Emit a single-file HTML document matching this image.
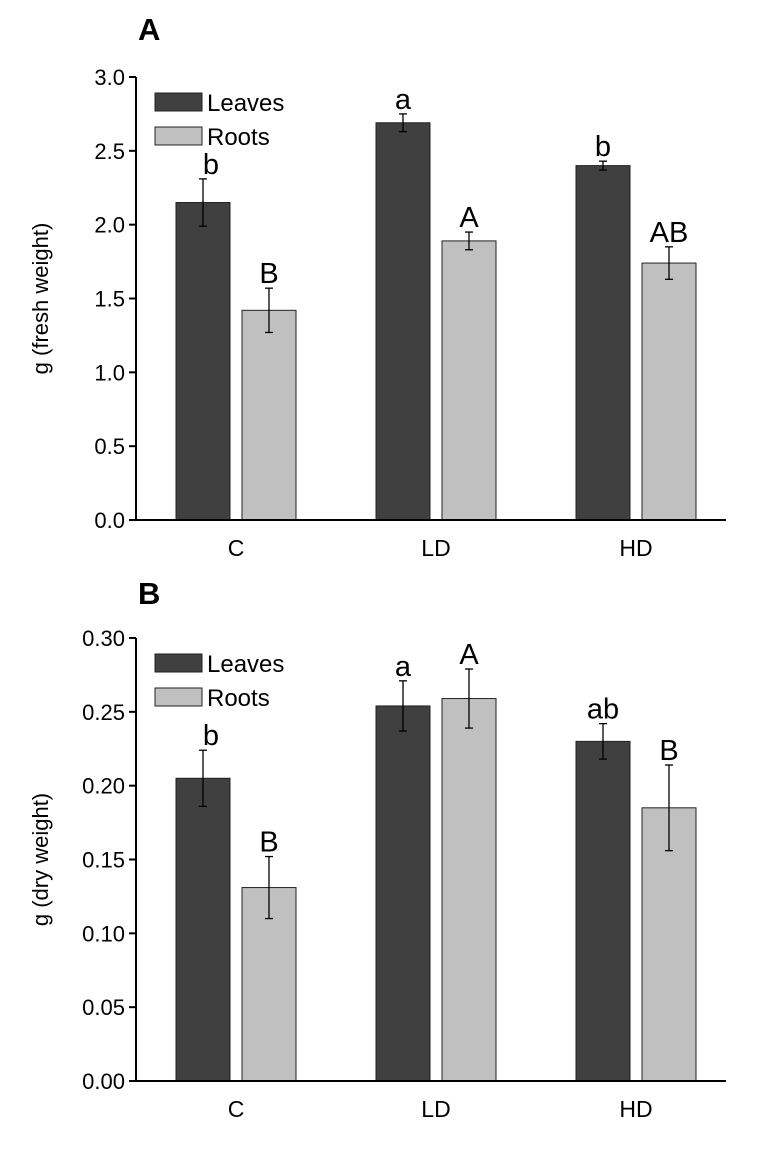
<!DOCTYPE html>
<html><head><meta charset="utf-8"><style>
body{margin:0;background:#fff;}
svg text{font-family:"Liberation Sans",sans-serif;fill:#000;}
</style></head><body>
<svg id="chart" width="761" height="1157" xmlns="http://www.w3.org/2000/svg"></svg>
<script>
const categories = ["C","LD","HD"];
const leavesA = [2.15, 2.69, 2.40];
const leavesAErr = [0.16, 0.06, 0.03];
const rootsA = [1.42, 1.89, 1.74];
const rootsAErr = [0.15, 0.06, 0.11];
const leavesALabels = ["b","a","b"];
const rootsALabels = ["B","A","AB"];
const ticksA = [0.0,0.5,1.0,1.5,2.0,2.5,3.0];
const leavesB = [0.205, 0.254, 0.230];
const leavesBErr = [0.019, 0.017, 0.012];
const rootsB = [0.131, 0.259, 0.185];
const rootsBErr = [0.021, 0.020, 0.029];
const leavesBLabels = ["b","a","ab"];
const rootsBLabels = ["B","A","B"];
const ticksB = [0.00,0.05,0.10,0.15,0.20,0.25,0.30];

const NS="http://www.w3.org/2000/svg";
const svg=document.getElementById('chart');
function mk(tag,attrs,parent,text){const e=document.createElementNS(NS,tag);for(const k in attrs)e.setAttribute(k,attrs[k]);if(text!==undefined)e.textContent=text;(parent||svg).appendChild(e);return e;}

function panel(o){
  const g=mk('g',{});
  
  
  const x0=136,x1=726,yb=o.yb,yt=o.yt,max=o.max;
  const y=v=>yb-(v/max)*(yb-yt);
  const cx=i=>236+i*200;
  const t=mk('text',{x:138,y:o.titleY,'font-size':31,'font-weight':'bold'},g,o.title);
  
  
  const ya=mk('line',{x1:x0,y1:yt,x2:x0,y2:yb,stroke:'#000','stroke-width':2},g);
  
  
  o.ticks.forEach(v=>{
    mk('line',{x1:x0-7,y1:y(v),x2:x0,y2:y(v),stroke:'#000','stroke-width':2},g);
    const tl=mk('text',{x:x0-11,y:y(v)+8,'font-size':22,'text-anchor':'end'},g,v.toFixed(o.dec));
    
    
  });
  const yl=mk('text',{transform:`translate(48,${(yt+yb)/2}) rotate(-90)`,'font-size':22,'text-anchor':'middle'},g,o.ylabel);
  
  
  categories.forEach((c,i)=>{
    [[o.leaves,o.leavesErr,o.lL,'#404040',-60,'leaves'],[o.roots,o.rootsErr,o.rL,'#c0c0c0',6,'roots']].forEach(s=>{
      const v=s[0][i],e=s[1][i],bx=cx(i)+s[4];
      const r=mk('rect',{x:bx,y:y(v),width:54,height:yb-y(v),fill:s[3],stroke:'#222','stroke-width':1},g);
      
      
      const m=bx+27;
      mk('line',{x1:m,y1:y(v+e),x2:m,y2:y(v-e),stroke:'#000','stroke-width':1.3},g);
      mk('line',{x1:m-4,y1:y(v+e),x2:m+4,y2:y(v+e),stroke:'#000','stroke-width':1.3},g);
      mk('line',{x1:m-4,y1:y(v-e),x2:m+4,y2:y(v-e),stroke:'#000','stroke-width':1.3},g);
      const sl=mk('text',{x:m+(s[5]==='leaves'&&i===0?8:0),y:y(v+e)-5,'font-size':29,'text-anchor':'middle','font-family':'DejaVu Sans'},g,s[2][i]);
      
      
    });
    const xl=mk('text',{x:cx(i),y:yb+36,'font-size':23,'text-anchor':'middle'},g,c);
    
    
  });
  const xa=mk('line',{x1:x0-7,y1:yb,x2:x1,y2:yb,stroke:'#000','stroke-width':2},g);
  
  
  const lg=mk('g',{},g);
  
  
  mk('rect',{x:155,y:yt+16,width:47,height:18,fill:'#404040',stroke:'#222'},lg);
  mk('text',{x:207,y:yt+34,'font-size':24},lg,'Leaves');
  mk('rect',{x:155,y:yt+50,width:47,height:18,fill:'#c0c0c0',stroke:'#222'},lg);
  mk('text',{x:207,y:yt+68,'font-size':24},lg,'Roots');
}
panel({name:'panel-a',title:'A',titleY:40,yt:77,yb:520,max:3.0,ticks:ticksA,dec:1,ylabel:'g (fresh weight)',leaves:leavesA,leavesErr:leavesAErr,roots:rootsA,rootsErr:rootsAErr,lL:leavesALabels,rL:rootsALabels});
panel({name:'panel-b',title:'B',titleY:604,yt:638,yb:1081,max:0.30,ticks:ticksB,dec:2,ylabel:'g (dry weight)',leaves:leavesB,leavesErr:leavesBErr,roots:rootsB,rootsErr:rootsBErr,lL:leavesBLabels,rL:rootsBLabels});
</script>
</body></html>
